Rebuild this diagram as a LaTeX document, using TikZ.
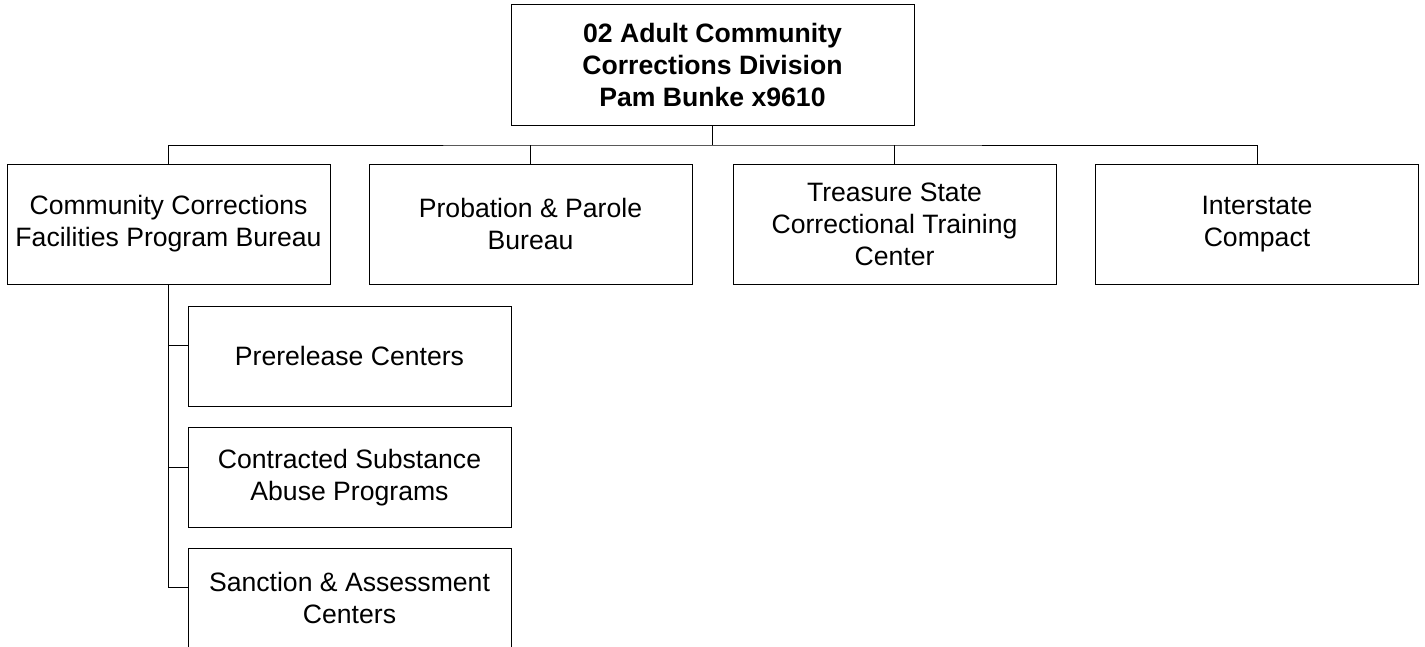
\documentclass[tikz,border=0pt]{standalone}
\usepackage{fontspec}
\setmainfont{Liberation Sans}
\usepackage{tikz}
\usetikzlibrary{positioning}
\newcommand{\boxfont}{\fontsize{26.6}{32}\selectfont}

\begin{document}
\begin{tikzpicture}[x=1pt, y=-1pt, line width=1pt,
    unitbox/.style={draw, align=center, inner sep=0pt, font=\boxfont,
                    minimum width=323pt, minimum height=120pt},
    subbox/.style={unitbox, minimum height=100pt}]
  \useasboundingbox (0,0) rectangle (1425,646);

  % ============ TOP: DIVISION ============
  \node[unitbox, minimum width=403pt, minimum height=121pt, font=\boxfont\bfseries]
    (div) at (712.5,64.5)
    {02 Adult Community\\Corrections Division\\Pam Bunke x9610};

  % ============ SECOND ROW: BUREAUS ============
  % Centres (px): 168.5, 530.5, 894.5, 1257
  \node[unitbox] (ccfpb) at (168.5,224) {Community Corrections\\Facilities Program Bureau};
  \node[unitbox] (ppb)   at (530.5,224) {Probation \& Parole\\Bureau};
  \node[unitbox] (tscc)  at (894.5,224) {Treasure State\\Correctional Training\\Center};
  \node[unitbox] (ic)    at (1257,224)  {Interstate\\Compact};

  % bus line under the division box
  \coordinate (bus) at (712.5,145);
  \draw (div.south) -- (bus);
  \draw (ccfpb.north) |- (bus) -| (ic.north);
  \draw (ppb.north)  -- (ppb.north |- bus);
  \draw (tscc.north) -- (tscc.north |- bus);

  % ============ THIRD LEVEL: PROGRAMS ============
  \node[subbox] (prc)  at (349.5,356)   {Prerelease Centers};
  \node[subbox] (csap) at (349.5,477.5) {Contracted Substance\\Abuse Programs};
  \node[subbox] (sac)  at (349.5,598)   {Sanction \& Assessment\\Centers};

  % side connectors meet each box 40px below its top edge
  \foreach \prog in {prc,csap,sac}
    \draw (ccfpb.south) |- ([yshift=-40pt]\prog.north west);
\end{tikzpicture}
\end{document}
